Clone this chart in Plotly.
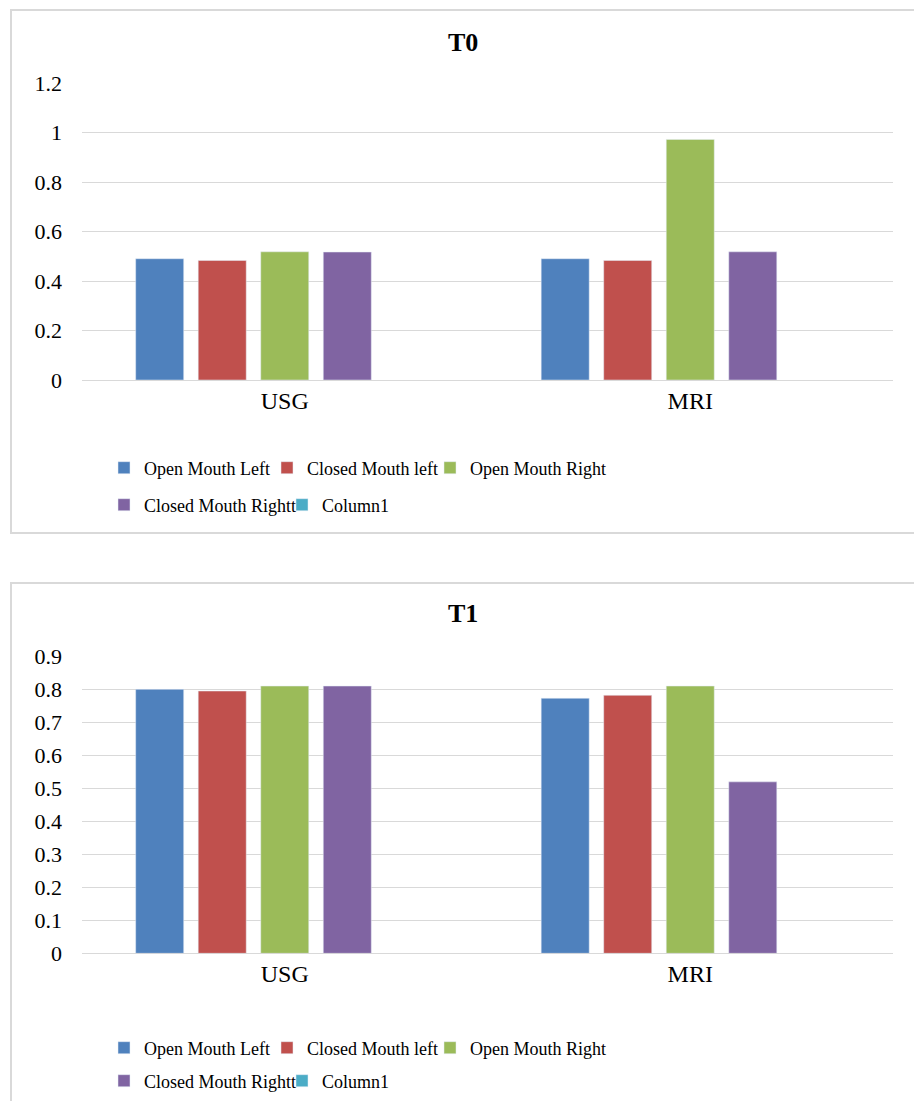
import plotly.graph_objects as go

W, H = 914, 1101

categories = ["USG", "MRI"]
series_names = ["Open Mouth Left", "Closed Mouth left", "Open Mouth Right",
                "Closed Mouth Rightt", "Column1"]
colors = ["#4F81BD", "#C0504D", "#9BBB59", "#8064A2", "#4BACC6"]

t0_open_left = [0.49, 0.49]
t0_closed_left = [0.483, 0.483]
t0_open_right = [0.518, 0.972]
t0_closed_right = [0.517, 0.518]
t0_column1 = [None, None]

t1_open_left = [0.799, 0.772]
t1_closed_left = [0.794, 0.781]
t1_open_right = [0.809, 0.809]
t1_closed_right = [0.809, 0.519]
t1_column1 = [None, None]

t0_ticks = [0, 0.2, 0.4, 0.6, 0.8, 1, 1.2]
t0_ticktext = ["0", "0.2", "0.4", "0.6", "0.8", "1", "1.2"]
t1_ticks = [0, 0.1, 0.2, 0.3, 0.4, 0.5, 0.6, 0.7, 0.8, 0.9]
t1_ticktext = ["0", "0.1", "0.2", "0.3", "0.4", "0.5", "0.6", "0.7", "0.8", "0.9"]

FONT = "Liberation Serif"

def px_x(p):
    return p / W

def px_y(p):
    return 1 - p / H

fig = go.Figure()

t0_data = [t0_open_left, t0_closed_left, t0_open_right, t0_closed_right, t0_column1]
t1_data = [t1_open_left, t1_closed_left, t1_open_right, t1_closed_right, t1_column1]

for i, (name, vals) in enumerate(zip(series_names, t0_data)):
    fig.add_trace(go.Bar(x=categories, y=vals, name=name, marker_color=colors[i],
                         xaxis="x", yaxis="y",
                         legend="legend" if i < 3 else "legend2"))
for i, (name, vals) in enumerate(zip(series_names, t1_data)):
    fig.add_trace(go.Bar(x=categories, y=vals, name=name, marker_color=colors[i],
                         xaxis="x2", yaxis="y2",
                         legend="legend3" if i < 3 else "legend4"))

# invisible spacer entries so the last legend text of row 1 is not clipped
for ax, ay, lg in [("x", "y", "legend"), ("x2", "y2", "legend3")]:
    fig.add_trace(go.Scatter(x=[None], y=[None], mode="markers", name=" ",
                             marker=dict(color="rgba(0,0,0,0)", size=1,
                                         line=dict(width=0)),
                             xaxis=ax, yaxis=ay, legend=lg, hoverinfo="skip"))

grid = "#D9D9D9"
xdom = [px_x(82), px_x(893)]
tickfont = dict(family=FONT, size=22, color="#000000")
catfont = dict(family=FONT, size=24, color="#000000")

common_x = dict(type="category", showgrid=False, showline=False, ticks="",
                tickfont=catfont, ticklabelstandoff=4, fixedrange=True,
                automargin=False)
common_y = dict(showgrid=True, gridcolor=grid, gridwidth=1, zeroline=True,
                zerolinecolor=grid, zerolinewidth=1, showline=False, ticks="",
                tickfont=tickfont, ticklabelstandoff=19, fixedrange=True,
                automargin=False)

fig.update_layout(
    width=W, height=H, autosize=False,
    margin=dict(l=0, r=0, t=0, b=0, autoexpand=False),
    paper_bgcolor="white", plot_bgcolor="white",
    barmode="group", bargap=0.229, bargroupgap=0.232,
    xaxis=dict(domain=xdom, anchor="y", **common_x),
    yaxis=dict(domain=[px_y(380), px_y(83)], range=[0, 1.2], tickvals=t0_ticks,
               ticktext=t0_ticktext, anchor="x", **common_y),
    xaxis2=dict(domain=xdom, anchor="y2", **common_x),
    yaxis2=dict(domain=[px_y(953.3), px_y(656)], range=[0, 0.9], tickvals=t1_ticks,
                ticktext=t1_ticktext, anchor="x2", **common_y),
    showlegend=True,
)

legend_common = dict(orientation="h", xanchor="left", yanchor="middle",
                     xref="container", yref="container",
                     font=dict(family=FONT, size=18, color="#000000"),
                     entrywidthmode="pixels",
                     bgcolor="rgba(0,0,0,0)", traceorder="normal")
fig.update_layout(
    legend=dict(x=px_x(104), y=px_y(468), entrywidth=118, **legend_common),
    legend2=dict(x=px_x(104), y=px_y(505), entrywidth=133, **legend_common),
    legend3=dict(x=px_x(104), y=px_y(1048), entrywidth=118, **legend_common),
    legend4=dict(x=px_x(104), y=px_y(1081), entrywidth=133, **legend_common),
)

fig.add_annotation(text="<b>T0</b>", x=px_x(463), y=px_y(42), xref="paper", yref="paper",
                   showarrow=False, font=dict(family=FONT, size=26, color="#000000"),
                   xanchor="center", yanchor="middle")
fig.add_annotation(text="<b>T1</b>", x=px_x(463), y=px_y(613), xref="paper", yref="paper",
                   showarrow=False, font=dict(family=FONT, size=26, color="#000000"),
                   xanchor="center", yanchor="middle")

fig.add_shape(type="rect", xref="paper", yref="paper",
              x0=px_x(11), x1=px_x(930), y0=px_y(533), y1=px_y(10),
              line=dict(color=grid, width=2), fillcolor="rgba(0,0,0,0)", layer="below")
fig.add_shape(type="rect", xref="paper", yref="paper",
              x0=px_x(11), x1=px_x(930), y0=px_y(1120), y1=px_y(583),
              line=dict(color=grid, width=2), fillcolor="rgba(0,0,0,0)", layer="below")

fig.write_html("out.html", config={"displayModeBar": False},
               post_script="document.body.style.margin='0';"
                           "document.body.style.overflow='hidden';")
